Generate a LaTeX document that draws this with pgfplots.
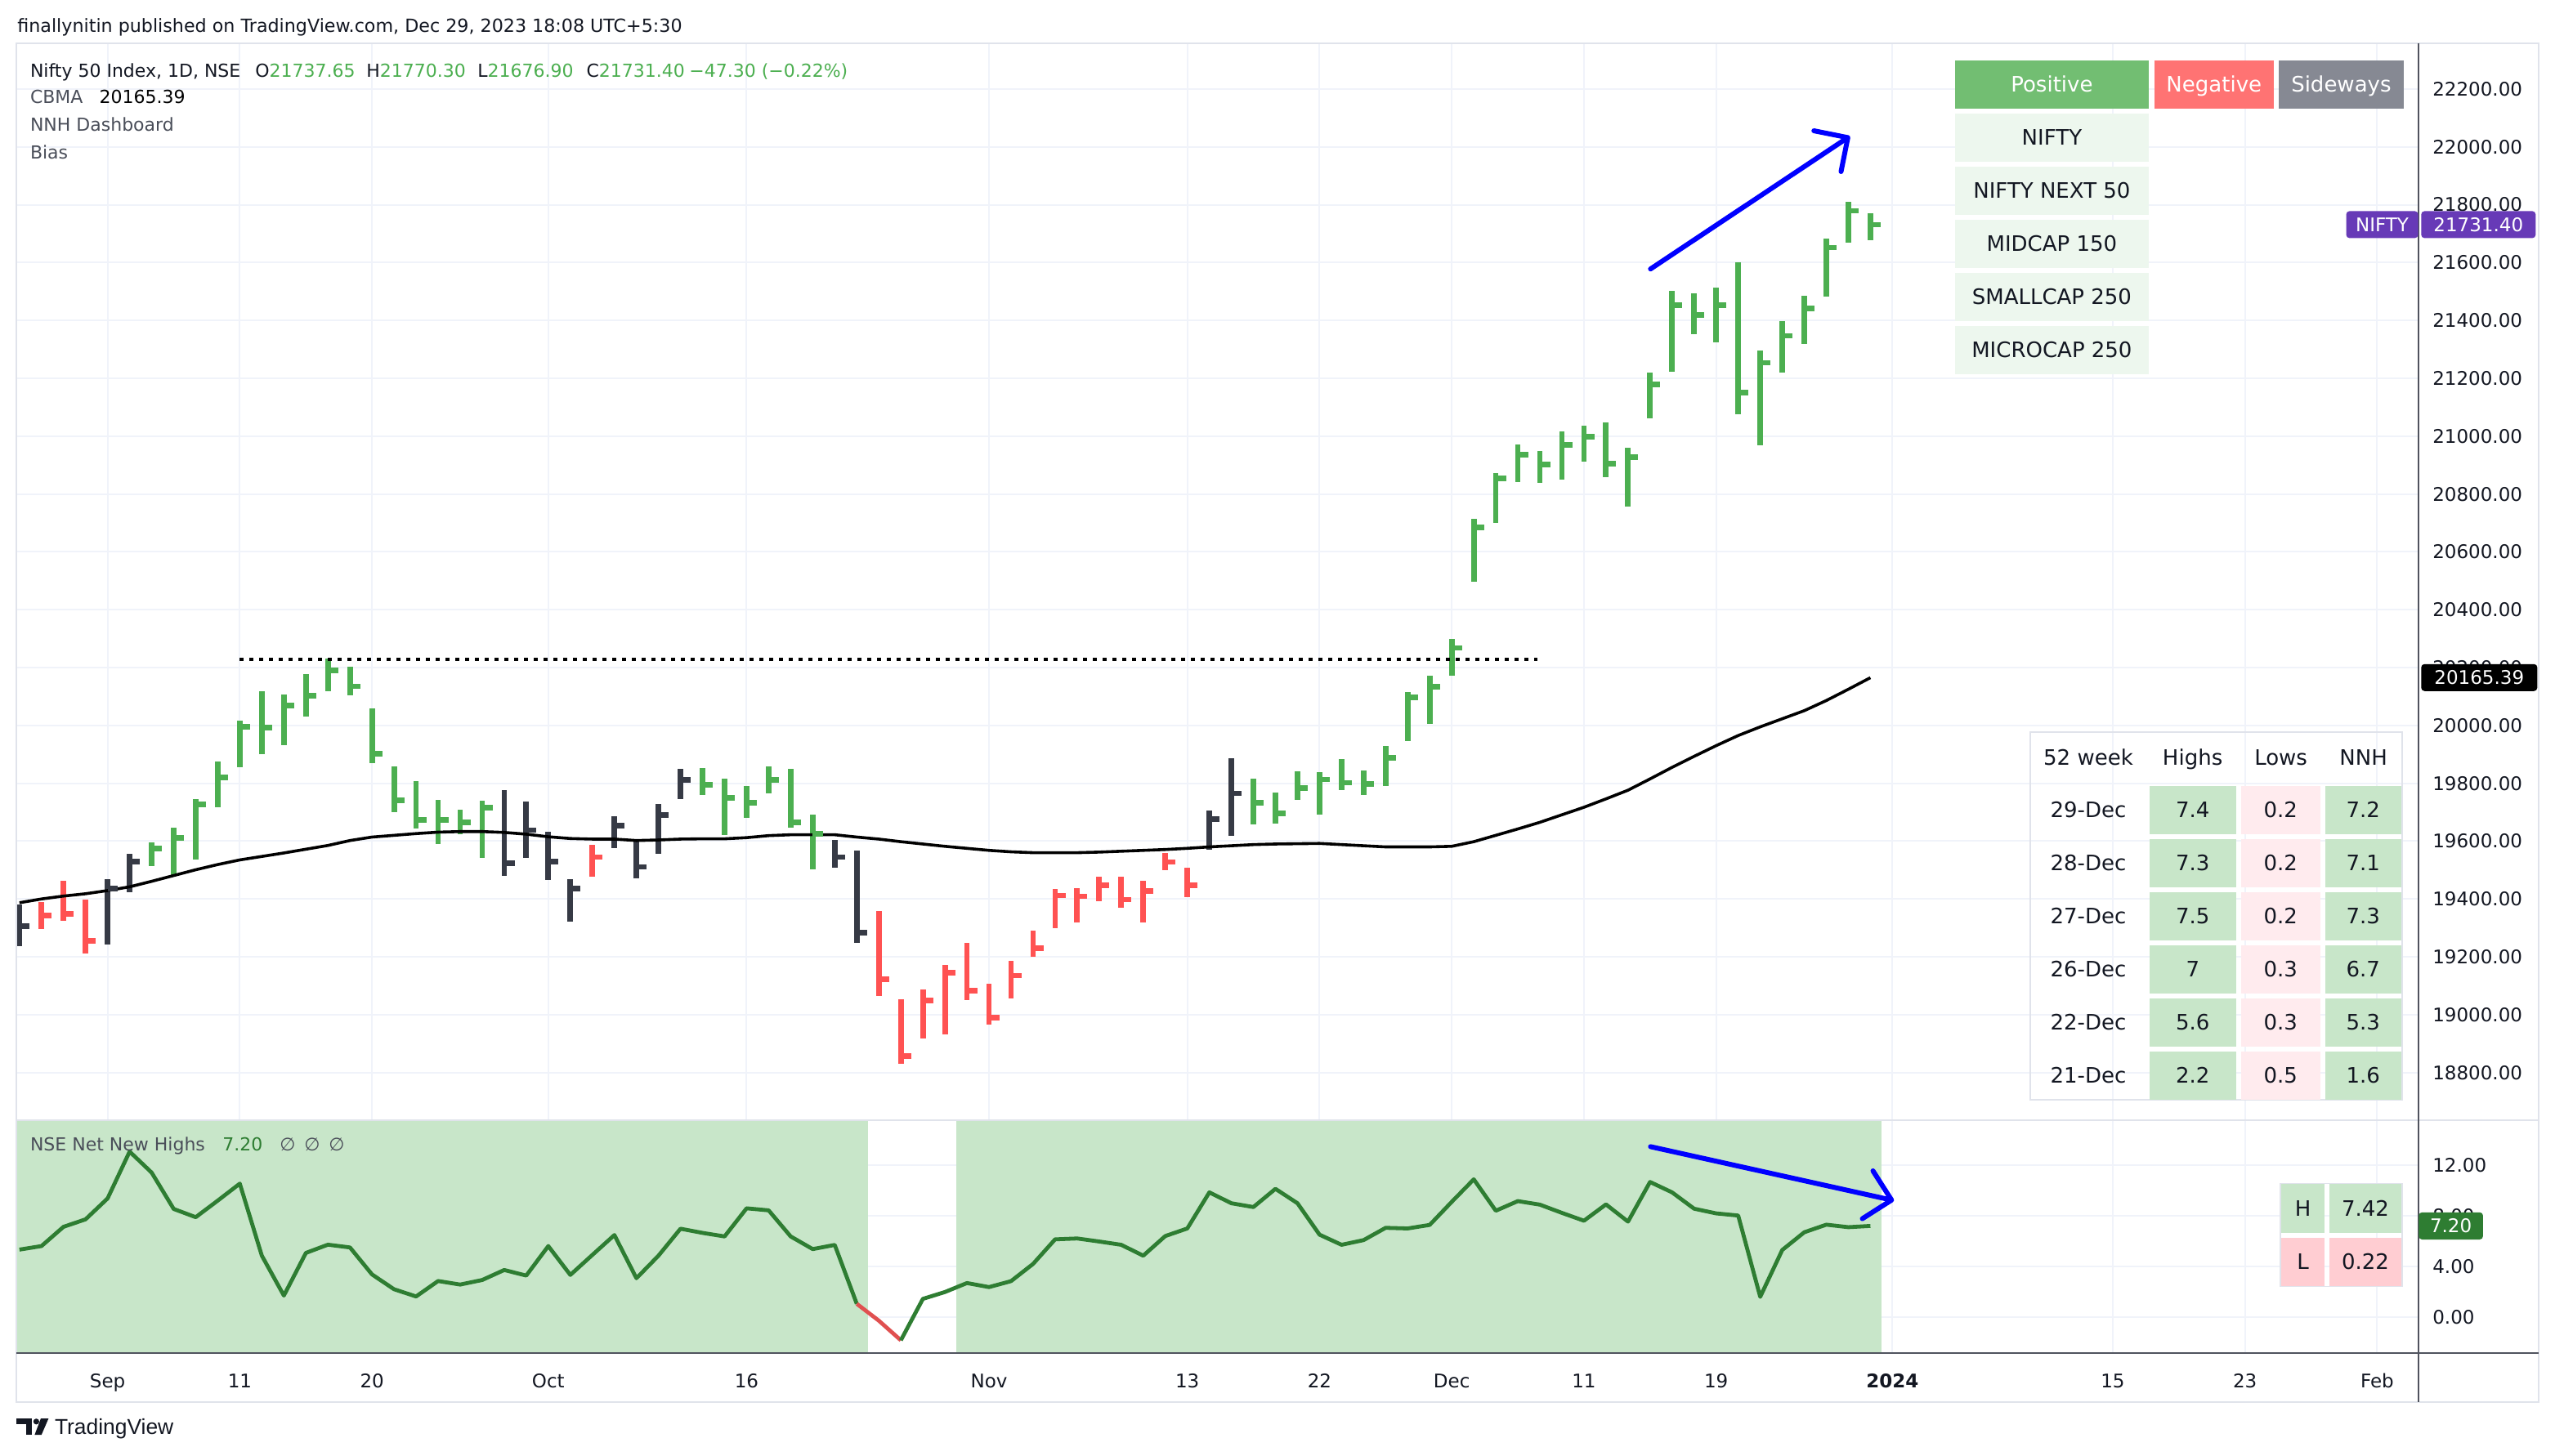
\documentclass[border=0pt]{standalone}
\usepackage{pgfplots}
\pgfplotsset{compat=1.18}
\usepackage{pgfplotstable}
\usepackage{fontspec}
\setmainfont{DejaVu Sans}
\newfontfamily\logofont{Liberation Sans}
\usetikzlibrary{arrows.meta}

\definecolor{tvgreen}{HTML}{4CAF50}
\definecolor{tvred}{HTML}{FF5252}
\definecolor{tvdark}{HTML}{363A45}
\definecolor{gridc}{HTML}{F0F3FA}
\definecolor{framec}{HTML}{E0E3EB}
\definecolor{axisc}{HTML}{50535E}
\definecolor{txt}{HTML}{131722}
\definecolor{txtgray}{HTML}{4A4E59}
\definecolor{nnhline}{HTML}{2E7D32}
\definecolor{nnhred}{HTML}{E05050}
\definecolor{nnhbg}{HTML}{C8E6C9}
\definecolor{purp}{HTML}{673AB7}
\definecolor{posc}{HTML}{72BE72}
\definecolor{negc}{HTML}{FF7373}
\definecolor{sidec}{HTML}{868993}
\definecolor{rowc}{HTML}{EDF7EE}
\definecolor{hic}{HTML}{C8E6C9}
\definecolor{loc}{HTML}{FFEBEE}
\definecolor{lowc}{HTML}{FFCDD2}

\newcommand\lbl{\fontsize{11.5}{13}\selectfont}
\newcommand\lgd{\fontsize{11}{13}\selectfont}
\newcommand\tbl{\fontsize{13}{15}\selectfont}

% close tick of an HLC bar
\pgfdeclareplotmark{closetick}{%
  \pgfpathmoveto{\pgfqpoint{0pt}{0pt}}%
  \pgfpathlineto{\pgfqpoint{6.3pt}{0pt}}%
  \pgfusepathqstroke}

% bar index: 0 = 11 Sep 2023
\pgfplotstableread{
x h l c
-10 19380 19238 19306
-6 19469 19243 19435
-5 19557 19422 19529
12 19777 19481 19523
13 19737 19541 19638
14 19632 19467 19529
15 19469 19322 19435
17 19687 19577 19653
18 19599 19470 19511
19 19728 19555 19690
20 19849 19745 19811
27 19605 19507 19545
28 19568 19248 19283
44 19705 19570 19677
45 19887 19617 19765
}\darkbars

\pgfplotstableread{
x h l c
-9 19390 19297 19342
-8 19463 19323 19348
-7 19398 19212 19256
16 19588 19476 19545
29 19359 19065 19122
30 19054 18830 18857
31 19088 18919 19050
32 19171 18933 19144
33 19247 19049 19082
34 19108 18966 18990
35 19187 19057 19135
36 19290 19201 19230
37 19434 19298 19412
38 19436 19319 19409
39 19476 19393 19447
40 19476 19370 19398
41 19462 19319 19427
42 19558 19500 19528
43 19507 19407 19447
}\redbars

\pgfplotstableread{
x h l c
-4 19595 19515 19575
-3 19646 19481 19612
-2 19745 19536 19728
-1 19876 19716 19820
0 20016 19855 19996
1 20119 19902 19993
2 20107 19933 20069
3 20178 20032 20102
4 20230 20117 20191
5 20203 20104 20135
6 20059 19869 19903
7 19858 19699 19741
8 19807 19645 19673
9 19743 19591 19673
10 19708 19625 19665
11 19740 19543 19715
21 19852 19759 19795
22 19816 19622 19749
23 19791 19679 19733
24 19859 19764 19811
25 19849 19647 19665
26 19692 19501 19625
46 19817 19657 19733
47 19767 19661 19695
48 19840 19742 19784
49 19838 19693 19813
50 19885 19776 19802
51 19843 19759 19797
52 19928 19790 19889
53 20114 19946 20098
54 20171 20005 20133
55 20300 20171 20268
56 20713 20497 20685
57 20873 20700 20855
58 20970 20842 20937
59 20950 20839 20901
60 21016 20850 20969
61 21036 20912 20998
62 21047 20857 20906
63 20959 20757 20927
64 21220 21062 21180
65 21502 21224 21454
66 21494 21354 21418
67 21514 21325 21452
68 21602 21076 21151
69 21297 20968 21254
70 21399 21221 21347
71 21486 21318 21441
72 21684 21483 21652
73 21809 21668 21779
74 21770 21677 21731
}\greenbars

\pgfplotstableread{
x y
-10 19387
-9 19400
-8 19410
-7 19418
-6 19429
-5 19442
-4 19461
-3 19481
-2 19501
-1 19519
0 19535
1 19547
2 19559
3 19572
4 19585
5 19602
6 19614
7 19620
8 19626
9 19631
10 19633
11 19633
12 19630
13 19624
14 19615
15 19609
16 19607
17 19607
18 19602
19 19604
20 19607
21 19608
22 19608
23 19612
24 19619
25 19622
26 19622
27 19622
28 19614
29 19607
30 19598
31 19590
32 19582
33 19575
34 19568
35 19563
36 19560
37 19560
38 19560
39 19562
40 19565
41 19568
42 19571
43 19575
44 19580
45 19584
46 19588
47 19590
48 19591
49 19592
50 19588
51 19584
52 19580
53 19580
54 19580
55 19582
56 19598
57 19620
58 19642
59 19665
60 19691
61 19717
62 19746
63 19776
64 19815
65 19855
66 19893
67 19930
68 19965
69 19995
70 20023
71 20051
72 20086
73 20125
74 20165
}\cbma

\pgfplotstableread{
x y
-10 5.33
-9 5.61
-8 7.13
-7 7.72
-6 9.37
-5 13.07
-4 11.41
-3 8.54
-2 7.89
-1 9.20
0 10.54
1 4.85
2 1.70
3 5.07
4 5.72
5 5.50
6 3.37
7 2.20
8 1.63
9 2.85
10 2.57
11 2.93
12 3.72
13 3.28
14 5.61
15 3.33
16 4.91
17 6.48
18 3.07
19 4.85
20 6.98
21 6.65
22 6.37
23 8.59
24 8.43
25 6.37
26 5.37
27 5.70
28 1.05
}\nnhA

\pgfplotstableread{
x y
28 1.05
29 -0.28
30 -1.83
}\nnhR

\pgfplotstableread{
x y
30 -1.83
31 1.44
32 1.98
33 2.69
34 2.37
35 2.84
36 4.20
37 6.14
38 6.21
39 5.97
40 5.71
41 4.85
42 6.40
43 7.00
44 9.85
45 8.99
46 8.69
47 10.13
48 8.99
49 6.51
50 5.71
51 6.08
52 7.05
53 7.00
54 7.28
55 9.10
56 10.88
57 8.40
58 9.16
59 8.88
60 8.23
61 7.61
62 8.90
63 7.54
64 10.67
65 9.85
66 8.56
67 8.19
68 8.02
69 1.6
70 5.3
71 6.7
72 7.3
73 7.1
74 7.2
}\nnhB

\pgfplotsset{
  tvpane/.style={anchor=north west, width=1469.5pt, scale only axis,
    xmin=-10.141, xmax=98.872,
    axis line style={draw=none}, tick style={draw=none},
    scaled y ticks=false, scaled x ticks=false,
    xtick={-6,0,6,14,23,34,43,49,55,61,67,75,85,91,97},
    grid=major, major grid style={draw=gridc, line width=1pt},
    yticklabel pos=right,
    yticklabel style={anchor=west, inner sep=0pt, xshift=8.5pt, font=\lbl, text=txt},
    clip=false},
  hlc/.style={only marks, mark=closetick, mark options={line width=3.4pt, #1},
    error bars/.cd, y dir=both, y explicit, error mark=none,
    error bar style={line width=3.4pt, #1}},
}

\newcommand\cell[6]{%
  \fill[#5] (#1,#2) rectangle (#3,#4);
  \node[anchor=base, inner sep=0pt, font=\tbl, text=txt] at ({(#1+#3)/2},{(#2+#4)/2+4.7}) {#6};}
\newcommand\wcell[6]{%
  \fill[#5] (#1,#2) rectangle (#3,#4);
  \node[anchor=base, inner sep=0pt, font=\tbl, text=white] at ({(#1+#3)/2},{(#2+#4)/2+4.7}) {#6};}

\begin{document}
\begin{tikzpicture}
\fill[white] (0pt,0pt) rectangle (1563pt,-891pt);
\path[use as bounding box] (0pt,0pt) rectangle (1563pt,-891pt);

% price pane
\begin{axis}[tvpane, at={(10pt,-26.4pt)}, height=659.1pt,
  ymin=18635.1, ymax=22358.8,
  ytick={18800,19000,...,22200},
  yticklabels={18800.00,19000.00,19200.00,19400.00,19600.00,19800.00,20000.00,20200.00,20400.00,20600.00,20800.00,21000.00,21200.00,21400.00,21600.00,21800.00,22000.00,22200.00},
  xticklabels={}]
  \addplot[hlc=tvdark] table[x=x, y=c, y error plus expr=\thisrow{h}-\thisrow{c}, y error minus expr=\thisrow{c}-\thisrow{l}] {\darkbars};
  \addplot[hlc=tvred] table[x=x, y=c, y error plus expr=\thisrow{h}-\thisrow{c}, y error minus expr=\thisrow{c}-\thisrow{l}] {\redbars};
  \addplot[hlc=tvgreen] table[x=x, y=c, y error plus expr=\thisrow{h}-\thisrow{c}, y error minus expr=\thisrow{c}-\thisrow{l}] {\greenbars};
  \addplot[black, line width=1.8pt, line join=round, mark=none] table {\cbma};
  \addplot[black, line width=1.7pt, dash pattern=on 2.2pt off 3.8pt, mark=none] coordinates {(0,20228) (58.9,20228)};
  \addplot[blue, line width=3pt, line cap=round, mark=none, -{Straight Barb[length=15pt,width=30pt,round]}] coordinates {(64.02,21578) (73.07,22037)};
  \coordinate (lastpx) at (axis cs:98.872,21731.4);
  \coordinate (cbmapx) at (axis cs:98.872,20165.39);
\end{axis}

% net new highs pane
\begin{axis}[tvpane, at={(10pt,-685.5pt)}, height=142.5pt,
  ymin=-2.839, ymax=15.548,
  ytick={0,4,8,12}, yticklabels={0.00,4.00,8.00,12.00},
  xticklabels={Sep,11,20,Oct,16,Nov,13,22,Dec,11,19,\textbf{2024},15,23,Feb},
  xticklabel style={anchor=base, inner sep=0pt, yshift=-21.2pt, font=\lbl, text=txt}]
  \addplot[fill=nnhbg, draw=none, mark=none] coordinates {(-10.141,-2.839) (-10.141,15.548) (28.5,15.548) (28.5,-2.839)};
  \addplot[fill=nnhbg, draw=none, mark=none] coordinates {(32.5,-2.839) (32.5,15.548) (74.5,15.548) (74.5,-2.839)};
  \addplot[nnhline, line width=2.4pt, line join=round, mark=none] table {\nnhA};
  \addplot[nnhred, line width=2.4pt, line join=round, mark=none] table {\nnhR};
  \addplot[nnhline, line width=2.4pt, line join=round, mark=none] table {\nnhB};
  \addplot[blue, line width=3pt, line cap=round, mark=none, -{Straight Barb[length=15pt,width=30pt,round]}] coordinates {(64.02,13.46) (75.07,9.2)};
  \coordinate (nnhpx) at (axis cs:98.872,7.2);
\end{axis}

\begin{scope}[x=1pt,y=-1pt]
  % frame
  \draw[framec, line width=1pt] (10,26.4) rectangle (1553,858);
  \draw[framec, line width=1.2pt] (10,685.5) -- (1553,685.5);
  \draw[axisc, line width=1pt] (10,828) -- (1553,828);
  \draw[axisc, line width=0.8pt] (1479.5,26.4) -- (1479.5,858);

  % header and legend
  \node[anchor=base west, inner sep=0pt, font=\fontsize{11.1}{13}\selectfont, text=txt] at (10.5,19.7) {finallynitin published on TradingView.com, Dec 29, 2023 18:08 UTC+5:30};
  \node[anchor=base west, inner sep=0pt, font=\lgd, text=txt] at (18.3,47.2) {Nifty 50 Index, 1D, NSE};
  \node[anchor=base west, inner sep=0pt, font=\lgd, text=txt] at (156,47.2) {O\textcolor{tvgreen}{21737.65}};
  \node[anchor=base west, inner sep=0pt, font=\lgd, text=txt] at (224,47.2) {H\textcolor{tvgreen}{21770.30}};
  \node[anchor=base west, inner sep=0pt, font=\lgd, text=txt] at (292,47.2) {L\textcolor{tvgreen}{21676.90}};
  \node[anchor=base west, inner sep=0pt, font=\lgd, text=txt] at (358.6,47.2) {C\textcolor{tvgreen}{21731.40}};
  \node[anchor=base west, inner sep=0pt, font=\lgd, text=tvgreen] at (421.5,47.2) {−47.30 (−0.22\%)};
  \node[anchor=base west, inner sep=0pt, font=\lgd, text=txtgray] at (18.3,63.4) {CBMA};
  \node[anchor=base west, inner sep=0pt, font=\lgd, text=black] at (60.6,63.4) {20165.39};
  \node[anchor=base west, inner sep=0pt, font=\lgd, text=txtgray] at (18.3,80.2) {NNH Dashboard};
  \node[anchor=base west, inner sep=0pt, font=\lgd, text=txtgray] at (18.3,97.2) {Bias};
  \node[anchor=base west, inner sep=0pt, font=\lgd, text=txtgray] at (18.3,704.3) {NSE Net New Highs};
  \node[anchor=base west, inner sep=0pt, font=\lgd, text=nnhline] at (136,704.3) {7.20};
  \node[anchor=base west, inner sep=0pt, font=\lgd, text=txtgray] at (171,704.3) {∅};
  \node[anchor=base west, inner sep=0pt, font=\lgd, text=txtgray] at (186,704.3) {∅};
  \node[anchor=base west, inner sep=0pt, font=\lgd, text=txtgray] at (201,704.3) {∅};

  % bias dashboard
  \wcell{1196}{37}{1314.4}{66.3}{posc}{Positive}
  \wcell{1317.8}{37}{1391}{66.3}{negc}{Negative}
  \wcell{1394}{37}{1470.4}{66.3}{sidec}{Sideways}
  \cell{1196}{69.5}{1314.4}{98.8}{rowc}{NIFTY}
  \cell{1196}{102}{1314.4}{131.3}{rowc}{NIFTY NEXT 50}
  \cell{1196}{134.5}{1314.4}{163.8}{rowc}{MIDCAP 150}
  \cell{1196}{167}{1314.4}{196.3}{rowc}{SMALLCAP 250}
  \cell{1196}{199.5}{1314.4}{228.8}{rowc}{MICROCAP 250}

  % 52 week table
  \draw[framec, line width=1pt] (1242,447.8) rectangle (1469.7,673);
  \node[anchor=base, inner sep=0pt, font=\tbl, text=txt] at (1277.5,468) {52 week};
  \node[anchor=base, inner sep=0pt, font=\tbl, text=txt] at (1341.3,468) {Highs};
  \node[anchor=base, inner sep=0pt, font=\tbl, text=txt] at (1395.3,468) {Lows};
  \node[anchor=base, inner sep=0pt, font=\tbl, text=txt] at (1445.8,468) {NNH};
  \foreach \d/\h/\l/\n [count=\k from 0] in {29-Dec/7.4/0.2/7.2, 28-Dec/7.3/0.2/7.1, 27-Dec/7.5/0.2/7.3, 26-Dec/7/0.3/6.7, 22-Dec/5.6/0.3/5.3, 21-Dec/2.2/0.5/1.6}{
    \pgfmathsetmacro\ta{481.2+32.5*\k}
    \pgfmathsetmacro\tb{\ta+29.1}
    \node[anchor=base, inner sep=0pt, font=\tbl, text=txt] at (1277.5,{(\ta+\tb)/2+4.7}) {\d};
    \cell{1315}{\ta}{1367.8}{\tb}{hic}{\h}
    \cell{1371}{\ta}{1419.3}{\tb}{loc}{\l}
    \cell{1422.5}{\ta}{1468.8}{\tb}{hic}{\n}
  }

  % high / low box
  \draw[framec, line width=0.8pt] (1395,724.2) rectangle (1469.5,787.3);
  \cell{1395.5}{724.7}{1422}{754.5}{hic}{H}
  \cell{1425}{724.7}{1469}{754.5}{hic}{7.42}
  \cell{1395.5}{757.5}{1422}{786.8}{lowc}{L}
  \cell{1425}{757.5}{1469}{786.8}{lowc}{0.22}

  % logo
  \fill[txt] (10,868) rectangle (19.7,871.6);
  \fill[txt] (15.8,868) rectangle (19.7,878);
  \fill[txt] (22.2,869.9) circle (1.8);
  \fill[txt] (25,868) -- (29.7,868) -- (25.4,878) -- (21.2,878) -- cycle;
  \node[anchor=base west, inner sep=0pt, font=\logofont\fontsize{13.2}{15}\selectfont, text=txt] at (33.3,877.8) {TradingView};
\end{scope}

% last value labels on the scales
\node[fill=purp, text=white, font=\lbl, anchor=west, minimum width=70pt, minimum height=16.5pt, inner sep=0pt, xshift=1.5pt, rounded corners=2pt] at (lastpx) {21731.40};
\node[fill=purp, text=white, font=\lbl, anchor=east, minimum width=44pt, minimum height=16.5pt, inner sep=0pt, rounded corners=2pt] at (lastpx) {NIFTY};
\node[fill=black, text=white, font=\lbl, anchor=west, minimum width=71pt, minimum height=16.5pt, inner sep=0pt, xshift=1.5pt, rounded corners=2pt] at (cbmapx) {20165.39};
\node[fill=nnhline, text=white, font=\lbl, anchor=west, minimum width=39.3pt, minimum height=16.6pt, inner sep=0pt, rounded corners=2pt] at (nnhpx) {7.20};
\end{tikzpicture}
\end{document}
